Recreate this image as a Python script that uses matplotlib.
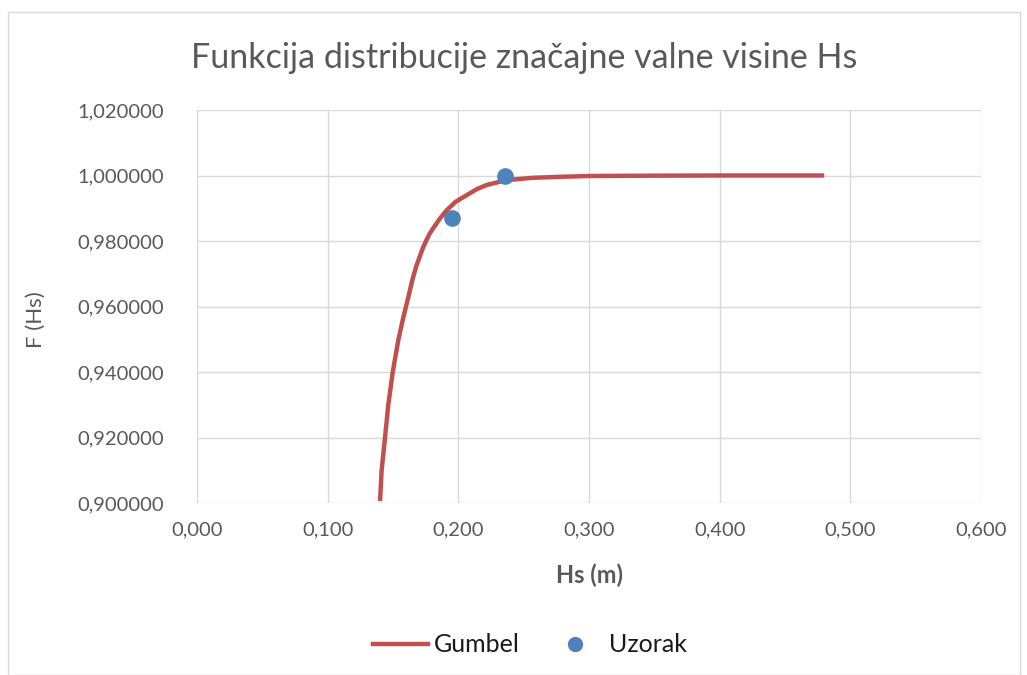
import matplotlib
matplotlib.use("Agg")
import matplotlib.pyplot as plt
from matplotlib.ticker import FuncFormatter
from matplotlib.lines import Line2D
from matplotlib.patches import Rectangle

# Data
gumbel_x = [0.1401, 0.1413, 0.1439, 0.1464, 0.1498, 0.1541, 0.1575, 0.1612, 0.1650,
            0.1680, 0.1707, 0.1730, 0.1755, 0.1780, 0.1809, 0.1860, 0.1911, 0.1980,
            0.2064, 0.2140, 0.2217, 0.2370, 0.2571, 0.2778, 0.3000, 0.3500, 0.4000,
            0.4800]
gumbel_y = [0.9006, 0.9100, 0.9200, 0.9300, 0.9400, 0.9498, 0.9560, 0.9620, 0.9684,
            0.9725, 0.9755, 0.9780, 0.9802, 0.9822, 0.9840, 0.9869, 0.9894, 0.9920,
            0.9940, 0.9958, 0.9971, 0.9986, 0.9993, 0.9996, 0.99985, 0.99995, 1.0,
            1.0]
sample_x = [0.195, 0.236]
sample_y = [0.987, 1.000]

title = "Funkcija distribucije značajne valne visine Hs"
xlabel = "Hs (m)"
ylabel = "F (Hs)"
x_ticks = [0.0, 0.1, 0.2, 0.3, 0.4, 0.5, 0.6]
y_ticks = [0.90, 0.92, 0.94, 0.96, 0.98, 1.00, 1.02]

plt.rcParams['font.family'] = ['Lato', 'DejaVu Sans']

fig = plt.figure(figsize=(10.27, 6.75), dpi=100)
fig.patches.append(Rectangle((8/1027, 0), (1020-8)/1027, 1 - 12/675, transform=fig.transFigure,
                             fill=False, edgecolor='#D9D9D9', linewidth=1.0))
ax = fig.add_axes([197/1027, 1 - 503/675, (981-197)/1027, (503-110)/675])

red = '#C0504D'
blue = '#4F81BD'
grey = '#595959'

ax.plot(gumbel_x, gumbel_y, color=red, linewidth=3.2, solid_capstyle='butt',
        solid_joinstyle='round', zorder=3)
ax.plot(sample_x, sample_y, 'o', color=blue, markersize=11, zorder=4)

ax.set_xlim(0, 0.6)
ax.set_ylim(0.9, 1.02)
ax.set_xticks(x_ticks)
ax.set_yticks(y_ticks)
ax.xaxis.set_major_formatter(FuncFormatter(lambda v, p: f"{v:.3f}".replace('.', ',')))
ax.yaxis.set_major_formatter(FuncFormatter(lambda v, p: f"{v:.6f}".replace('.', ',')))
ax.grid(True, color='#D9D9D9', linewidth=1.0)
ax.set_axisbelow(True)
for s in ax.spines.values():
    s.set_visible(False)
ax.tick_params(length=0, labelsize=14.5, labelcolor=grey)
ax.tick_params(axis='y', pad=24)
ax.tick_params(axis='x', pad=13)

fig.text(524/1027, 1 - 58/675, title, ha='center', va='center', fontsize=24.5, color=grey)
fig.text(589/1027, 1 - 575/675, xlabel, ha='center', va='center', fontsize=17,
         fontweight='bold', color=grey)
fig.text(36/1027, 1 - 320/675, ylabel, ha='center', va='center', fontsize=16,
         rotation=90, color=grey)

handles = [Line2D([], [], color=red, linewidth=3.2),
           Line2D([], [], marker='o', linestyle='none', color=blue, markersize=10)]
fig.legend(handles, ['Gumbel', 'Uzorak'], loc='center', bbox_to_anchor=(530/1027, 1 - 645/675),
           ncol=2, frameon=False, fontsize=18, handlelength=2.2, handletextpad=0.25,
           columnspacing=1.1, labelcolor='#1a1a1a', borderpad=0, borderaxespad=0)

fig.savefig('out.png', dpi=100)
